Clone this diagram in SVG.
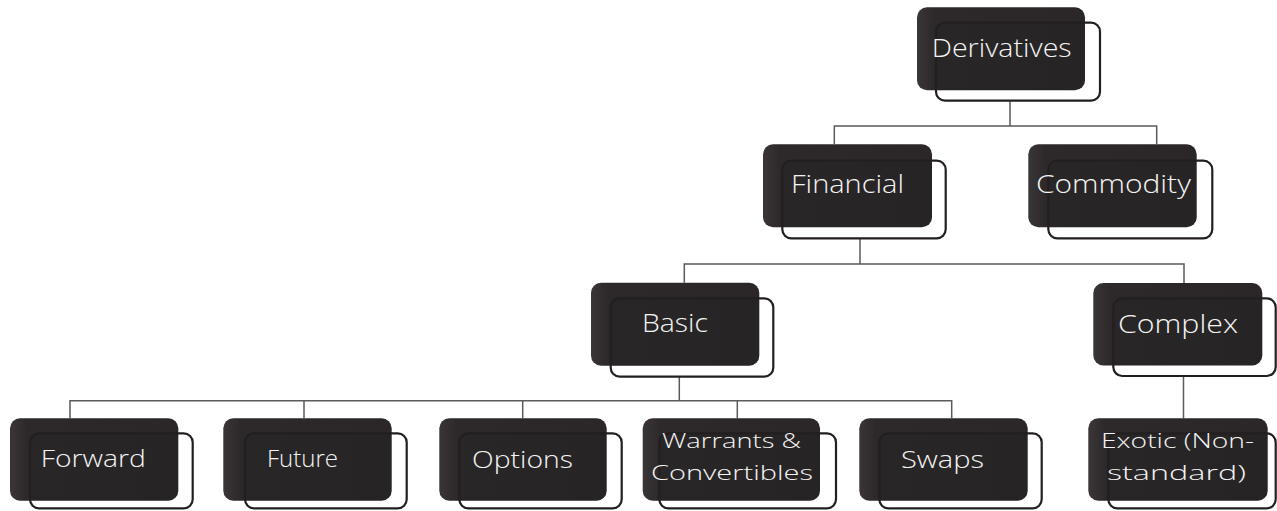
<svg xmlns="http://www.w3.org/2000/svg" width="1277" height="511" viewBox="0 0 1277 511">
<style>
.bg{fill:#ffffff}
.dark{fill:url(#g)}
.shade{fill:#000;fill-opacity:0.07}
.out{fill:none;stroke:#231f20;stroke-width:2.2}
.t{font-family:"Open Sans","DejaVu Sans","Liberation Sans",sans-serif;font-weight:300;fill:#f4f4f4;text-anchor:middle}
.l1{font-size:25px}
.l3{font-size:23.5px}
.l2{font-size:21px}
.conn path{fill:none;stroke:#5a5a5a;stroke-width:1.5}
</style>
<defs>
<linearGradient id="g" x1="0" y1="0" x2="1" y2="0">
<stop offset="0" stop-color="#3a3536"/>
<stop offset="0.1" stop-color="#2d292a"/>
<stop offset="1" stop-color="#2b2728"/>
</linearGradient>
<clipPath id="c1"><rect x="917" y="7.3" width="168" height="83" rx="10"/></clipPath>
<clipPath id="c2"><rect x="763" y="144.3" width="169" height="83" rx="10"/></clipPath>
<clipPath id="c3"><rect x="1028.3" y="144.3" width="168.4" height="83" rx="10"/></clipPath>
<clipPath id="c4"><rect x="591" y="282.7" width="168.3" height="83" rx="10"/></clipPath>
<clipPath id="c5"><rect x="1093.3" y="283" width="169" height="82.5" rx="10"/></clipPath>
<clipPath id="c6"><rect x="10" y="418.3" width="168.3" height="82.4" rx="10"/></clipPath>
<clipPath id="c7"><rect x="223.3" y="418.3" width="168.4" height="82.4" rx="10"/></clipPath>
<clipPath id="c8"><rect x="439.3" y="418.3" width="167.4" height="82.4" rx="10"/></clipPath>
<clipPath id="c9"><rect x="642.7" y="418.3" width="177.3" height="82.4" rx="10"/></clipPath>
<clipPath id="c10"><rect x="859.3" y="418.3" width="168.4" height="82.4" rx="10"/></clipPath>
<clipPath id="c11"><rect x="1088.3" y="418.3" width="179.4" height="82.4" rx="10"/></clipPath>
</defs>
<rect class="bg" x="0" y="0" width="1277" height="511"/>
<g id="connectors" class="conn">
<path d="M1010,100.7 V126"/>
<path d="M834.3,144.3 V126 H1156.7 V144.3"/>
<path d="M860,238.3 V264"/>
<path d="M684.3,282.7 V264 H1184 V283"/>
<path d="M679.3,376.7 V400.7"/>
<path d="M70,418.3 V400.7 H951.7 V418.3"/>
<path d="M304,400.7 V418.3"/>
<path d="M522.7,400.7 V418.3"/>
<path d="M737.3,400.7 V418.3"/>
<path d="M1183.5,376 V418.3"/>
</g>
<g id="node-derivatives">
<rect class="dark" x="917" y="7.3" width="168" height="83" rx="10"/>
<rect class="shade" clip-path="url(#c1)" x="936" y="22.7" width="164" height="78" rx="9"/>
<rect class="out" x="936" y="22.7" width="164" height="78" rx="9"/>
<text class="t" x="1001.7" y="57" font-size="26" textLength="140" lengthAdjust="spacingAndGlyphs">Derivatives</text>
</g>
<g id="node-financial">
<rect class="dark" x="763" y="144.3" width="169" height="83" rx="10"/>
<rect class="shade" clip-path="url(#c2)" x="782.3" y="160.7" width="163.4" height="77.6" rx="9"/>
<rect class="out" x="782.3" y="160.7" width="163.4" height="77.6" rx="9"/>
<text class="t l1" x="847.5" y="193.3" textLength="113" lengthAdjust="spacingAndGlyphs">Financial</text>
</g>
<g id="node-commodity">
<rect class="dark" x="1028.3" y="144.3" width="168.4" height="83" rx="10"/>
<rect class="shade" clip-path="url(#c3)" x="1048.3" y="160.7" width="164" height="77.6" rx="9"/>
<rect class="out" x="1048.3" y="160.7" width="164" height="77.6" rx="9"/>
<text class="t l1" x="1113.4" y="193" textLength="155" lengthAdjust="spacingAndGlyphs">Commodity</text>
</g>
<g id="node-basic">
<rect class="dark" x="591" y="282.7" width="168.3" height="83" rx="10"/>
<rect class="shade" clip-path="url(#c4)" x="610.7" y="298.3" width="162.6" height="78.4" rx="9"/>
<rect class="out" x="610.7" y="298.3" width="162.6" height="78.4" rx="9"/>
<text class="t l1" x="675" y="332" textLength="66" lengthAdjust="spacingAndGlyphs">Basic</text>
</g>
<g id="node-complex">
<rect class="dark" x="1093.3" y="283" width="169" height="82.5" rx="10"/>
<rect class="shade" clip-path="url(#c5)" x="1113.3" y="298.3" width="162.4" height="77.7" rx="9"/>
<rect class="out" x="1113.3" y="298.3" width="162.4" height="77.7" rx="9"/>
<text class="t l1" x="1178" y="333" textLength="120" lengthAdjust="spacingAndGlyphs">Complex</text>
</g>
<g id="node-forward">
<rect class="dark" x="10" y="418.3" width="168.3" height="82.4" rx="10"/>
<rect class="shade" clip-path="url(#c6)" x="30" y="433.3" width="162.7" height="75" rx="9"/>
<rect class="out" x="30" y="433.3" width="162.7" height="75" rx="9"/>
<text class="t l3" x="93.3" y="467" textLength="105" lengthAdjust="spacingAndGlyphs">Forward</text>
</g>
<g id="node-future">
<rect class="dark" x="223.3" y="418.3" width="168.4" height="82.4" rx="10"/>
<rect class="shade" clip-path="url(#c7)" x="245" y="433.3" width="161.7" height="75" rx="9"/>
<rect class="out" x="245" y="433.3" width="161.7" height="75" rx="9"/>
<text class="t l3" x="302.5" y="467" textLength="71" lengthAdjust="spacingAndGlyphs">Future</text>
</g>
<g id="node-options">
<rect class="dark" x="439.3" y="418.3" width="167.4" height="82.4" rx="10"/>
<rect class="shade" clip-path="url(#c8)" x="459.3" y="433.3" width="162.4" height="75" rx="9"/>
<rect class="out" x="459.3" y="433.3" width="162.4" height="75" rx="9"/>
<text class="t l3" x="522.5" y="468" textLength="101" lengthAdjust="spacingAndGlyphs">Options</text>
</g>
<g id="node-warrants">
<rect class="dark" x="642.7" y="418.3" width="177.3" height="82.4" rx="10"/>
<rect class="shade" clip-path="url(#c9)" x="659.3" y="433.3" width="176.7" height="75" rx="9"/>
<rect class="out" x="659.3" y="433.3" width="176.7" height="75" rx="9"/>
<text class="t l2" x="731.5" y="448" textLength="139" lengthAdjust="spacingAndGlyphs">Warrants &amp;</text>
<text class="t l2" x="732" y="480" textLength="162" lengthAdjust="spacingAndGlyphs">Convertibles</text>
</g>
<g id="node-swaps">
<rect class="dark" x="859.3" y="418.3" width="168.4" height="82.4" rx="10"/>
<rect class="shade" clip-path="url(#c10)" x="879.3" y="433.3" width="162.4" height="75" rx="9"/>
<rect class="out" x="879.3" y="433.3" width="162.4" height="75" rx="9"/>
<text class="t l3" x="942.5" y="468" textLength="83" lengthAdjust="spacingAndGlyphs">Swaps</text>
</g>
<g id="node-exotic">
<rect class="dark" x="1088.3" y="418.3" width="179.4" height="82.4" rx="10"/>
<rect class="shade" clip-path="url(#c11)" x="1108.3" y="433.3" width="167.4" height="75" rx="9"/>
<rect class="out" x="1108.3" y="433.3" width="167.4" height="75" rx="9"/>
<text class="t l2" x="1177.5" y="448" textLength="153" lengthAdjust="spacingAndGlyphs">Exotic (Non-</text>
<text class="t l2" x="1176.5" y="480" textLength="139" lengthAdjust="spacingAndGlyphs">standard)</text>
</g>
</svg>
